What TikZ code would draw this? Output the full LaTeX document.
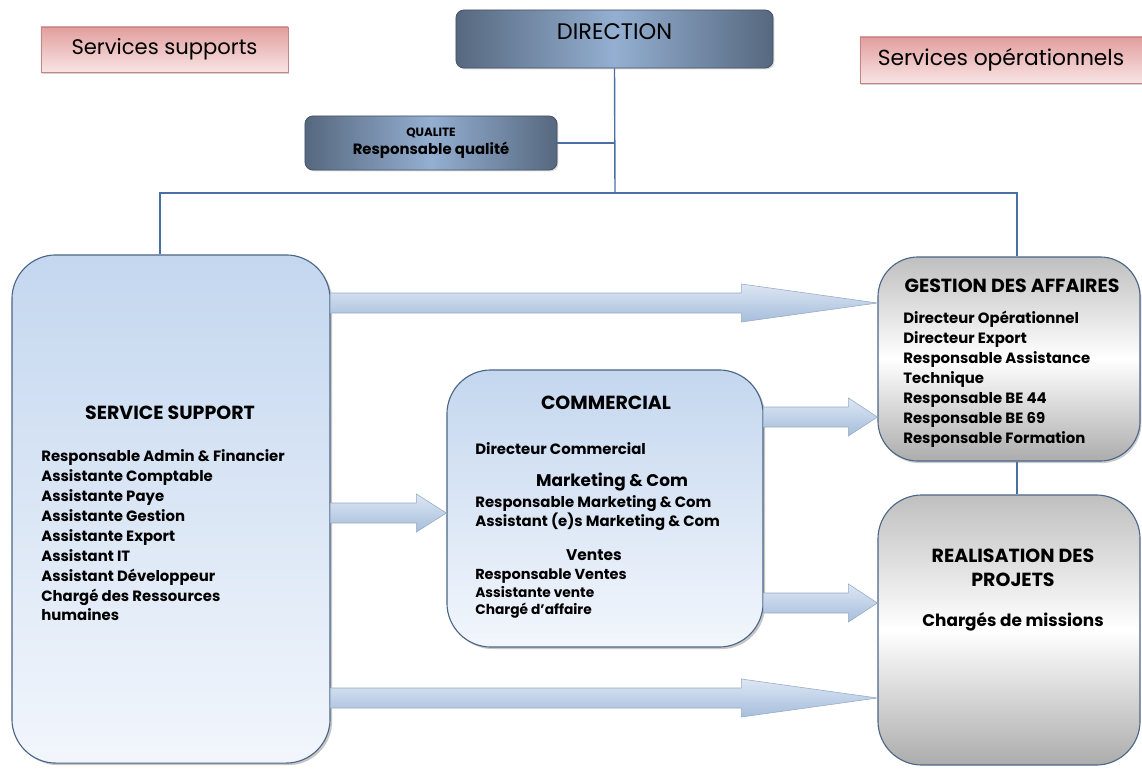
\documentclass[tikz,border=0pt]{standalone}
\usepackage{fontspec}
\setmainfont{Poppins}
\usetikzlibrary{shadows,calc}

\definecolor{link_blue}{HTML}{4A6FA5}
\definecolor{box_edge}{HTML}{4C6688}
\definecolor{box_top}{HTML}{C4D7EF}
\definecolor{box_bot}{HTML}{F2F6FC}
\definecolor{slate_dark}{HTML}{56687F}
\definecolor{slate_light}{HTML}{94AFD1}
\definecolor{pink_top}{HTML}{E39E9E}
\definecolor{pink_bot}{HTML}{F8E4E4}
\definecolor{arrow_top}{HTML}{DDE7F4}
\definecolor{arrow_bot}{HTML}{A6BDDB}

% fat arrow: start, tip, head length
\newcommand{\fatarrow}[3]{%
  \shade[fat_arrow] ($(#1)+(0,-10)$) -- ($(#2)+(-#3,-10)$) -- ($(#2)+(-#3,-19)$) -- (#2)
    -- ($(#2)+(-#3,19)$) -- ($(#2)+(-#3,10)$) -- ($(#1)+(0,10)$) -- cycle;}

\begin{document}
\begin{tikzpicture}[x=0.025cm,y=-0.025cm,
    blue_box/.style={rectangle,rounded corners=1.1cm,draw=box_edge,line width=0.8pt,top color=box_top,bottom color=box_bot,inner sep=0pt,drop shadow={opacity=0.45,shadow xshift=1.5pt,shadow yshift=-1.5pt}},
    grey_box/.style={rectangle,rounded corners=1cm,draw=box_edge,line width=0.8pt,top color=gray!50,bottom color=gray!65,middle color=white,inner sep=0pt},
    dark_box/.style={rectangle,rounded corners=0.2cm,draw=slate_dark!80!black,line width=0.6pt,left color=slate_dark,right color=slate_dark,middle color=slate_light,inner sep=0pt,drop shadow={opacity=0.3,shadow xshift=1pt,shadow yshift=-1pt}},
    pink_tag/.style={rectangle,draw=pink_top!85!black,line width=0.4pt,top color=pink_top,bottom color=pink_bot,inner sep=0pt,font=\fontsize{15}{17}\selectfont,drop shadow={opacity=0.35,shadow xshift=1pt,shadow yshift=-1.5pt}},
    fat_arrow/.style={top color=arrow_top,bottom color=arrow_bot,draw=arrow_bot!90!black,line width=0.4pt},
    link/.style={draw=link_blue,line width=1pt},
    title_text/.style={font=\bfseries\fontsize{13.5}{16}\selectfont,align=center},
    list_text/.style={font=\bfseries\fontsize{10.6}{14.2}\selectfont,align=left,anchor=north west,inner sep=0pt}]

    \useasboundingbox (0,0) rectangle (1142,769);

    \node[pink_tag,minimum width=6.175cm,minimum height=1.125cm] (tag_s) at (164.5,49.5) {Services supports};
    \node[pink_tag,minimum width=7.05cm,minimum height=1.15cm,font=\fontsize{15.5}{17}\selectfont] (tag_o) at (1001,60) {Services opérationnels};

    \node[dark_box,minimum width=7.925cm,minimum height=1.45cm,text depth=10pt,font=\fontsize{16}{18}\selectfont] (dir) at (614.5,39) {DIRECTION};
    \node[dark_box,minimum width=6.3cm,minimum height=1.35cm,align=center,font=\bfseries\fontsize{10.6}{13}\selectfont] (qual) at (431,143)
        {{\fontsize{8.5}{11}\selectfont QUALITE}\\Responsable qualité};

    \node[blue_box,minimum width=7.95cm,minimum height=12.7cm] (supp) at (171,509) {};
    \node[blue_box,minimum width=7.9cm,minimum height=6.925cm] (comm) at (605,508.5) {};
    \node[grey_box,minimum width=6.55cm,minimum height=5.1cm,drop shadow={opacity=0.4,shadow xshift=1pt,shadow yshift=-1.5pt}] (gest) at (1009,359) {};
    \node[grey_box,rounded corners=1.1cm,minimum width=6.55cm,minimum height=6.75cm] (real) at (1009,630) {};

    % organigram lines
    \coordinate (j_mid) at (615,193);
    \coordinate (j_left) at (160,193);
    \coordinate (j_right) at (1017,193);
    \path[link] (dir.south) -- (j_mid);
    \path[link] (qual.east) -- (qual.east -| dir.south);
    \path[link] (j_left |- supp.north) -- (j_left) -- (j_right) -- (j_right |- gest.north);
    \path[link] (j_right |- gest.south) -- (j_right |- real.north);

    % flows
    \coordinate (s_top) at (supp.east |- 0,303);
    \coordinate (s_mid) at (supp.east |- 0,513);
    \coordinate (s_bot) at (supp.east |- 0,698);
    \coordinate (c_top) at (comm.east |- 0,417);
    \coordinate (c_bot) at (comm.east |- 0,603);
    \coordinate (g_top) at (gest.west |- 0,303);
    \coordinate (g_mid) at (gest.west |- 0,417);
    \coordinate (k_mid) at (comm.west |- 0,513);
    \coordinate (r_mid) at (real.west |- 0,603);
    \coordinate (r_bot) at (real.west |- 0,698);
    \fatarrow{s_top}{g_top}{136}
    \fatarrow{s_mid}{k_mid}{30}
    \fatarrow{s_bot}{r_bot}{136}
    \fatarrow{c_top}{g_mid}{29}
    \fatarrow{c_bot}{r_mid}{29}

    % texts
    \node[title_text] (supp_t) at (170,413) {SERVICE SUPPORT};
    \node[list_text] (supp_l) at (41,449) {Responsable Admin \& Financier\\Assistante Comptable\\Assistante Paye\\Assistante Gestion\\Assistante Export\\Assistant IT\\Assistant Développeur\\Chargé des Ressources\\humaines};

    \node[title_text] (comm_t) at (606,403) {COMMERCIAL};
    \node[list_text] (comm_l1) at (475,442) {Directeur Commercial};
    \node[title_text,font=\bfseries\fontsize{12}{14}\selectfont] (comm_t2) at (612,482) {Marketing \& Com};
    \node[list_text,font=\bfseries\fontsize{10.6}{13.5}\selectfont] (comm_l2) at (475,495) {Responsable Marketing \& Com\\Assistant (e)s Marketing \& Com};
    \node[title_text,font=\bfseries\fontsize{11}{13}\selectfont] (comm_t3) at (594,555) {Ventes};
    \node[list_text,font=\bfseries\fontsize{10.3}{13}\selectfont] (comm_l3) at (475,568) {Responsable Ventes};
    \node[list_text,font=\bfseries\fontsize{9.8}{12.5}\selectfont] (comm_l4) at (475,586) {Assistante vente\\Chargé d’affaire};

    \node[title_text] (gest_t) at (1012,286) {GESTION DES AFFAIRES};
    \node[list_text] (gest_l) at (903,311) {Directeur Opérationnel\\Directeur Export\\Responsable Assistance\\Technique\\Responsable BE 44\\Responsable BE 69\\Responsable Formation};

    \node[title_text,font=\bfseries\fontsize{13.5}{17}\selectfont] (real_t) at (1013,568) {REALISATION DES\\PROJETS};
    \node[title_text,font=\bfseries\fontsize{12}{14}\selectfont] (real_l) at (1013,622) {Chargés de missions};

\end{tikzpicture}
\end{document}
